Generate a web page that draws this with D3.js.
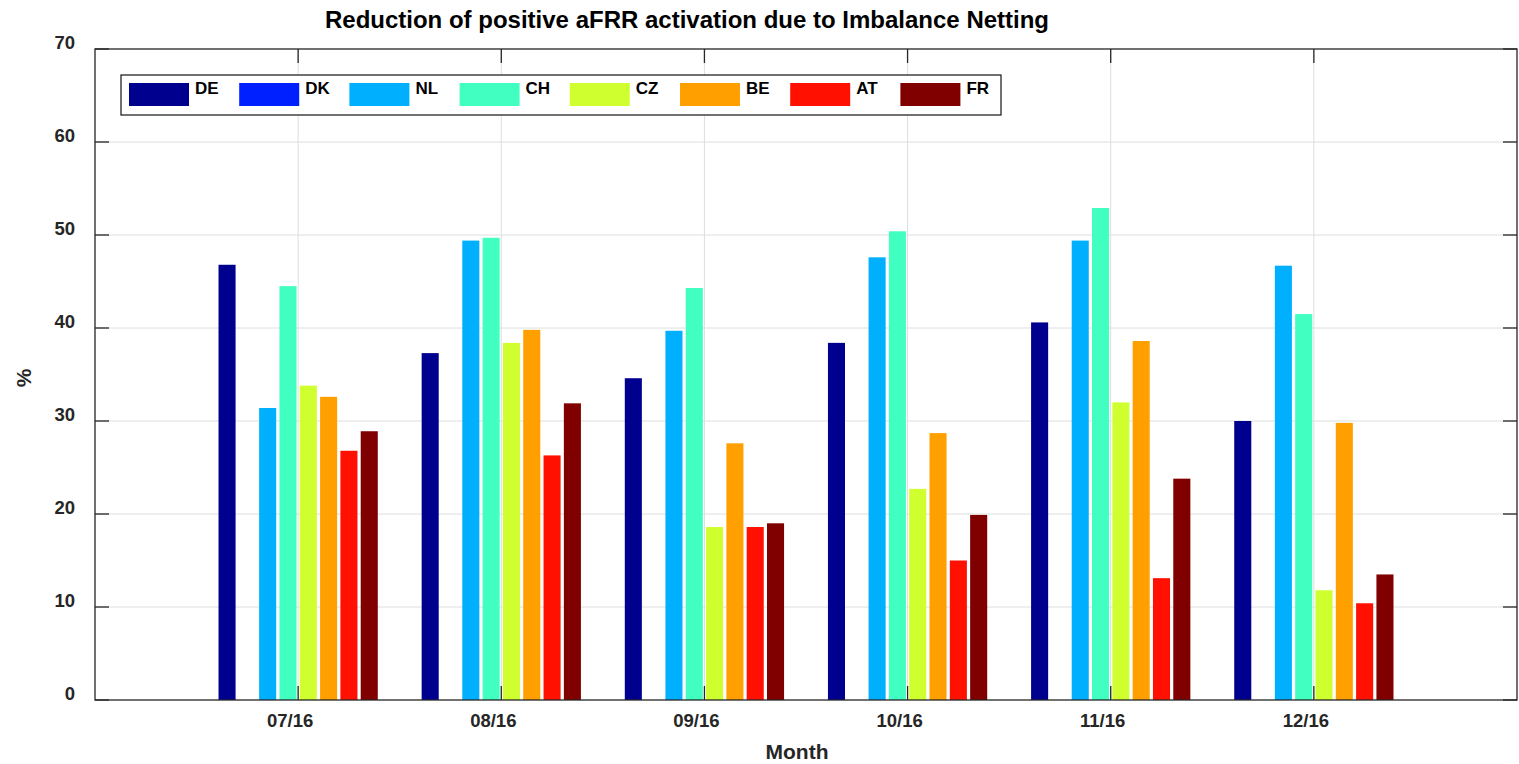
<!DOCTYPE html>
<html><head><meta charset="utf-8">
<script src="https://cdn.jsdelivr.net/npm/d3@7"></script>
<style>body{margin:0;background:#fff;} text{font-family:"Liberation Sans",Arial,sans-serif;font-weight:bold;}</style>
</head><body>
<svg id="chart" width="1519" height="764"></svg>
<script>
const months = ["07/16","08/16","09/16","10/16","11/16","12/16"];
const countries = ["DE","DK","NL","CH","CZ","BE","AT","FR"];
const colors = ["#00008F","#0020FF","#00B0FF","#40FFC0","#D0FF30","#FFA000","#FF1000","#800000"];
const DE = [46.8,37.3,34.6,38.4,40.6,30.0];
const DK = [0,0,0,0,0,0];
const NL = [31.4,49.4,39.7,47.6,49.4,46.7];
const CH = [44.5,49.7,44.3,50.4,52.9,41.5];
const CZ = [33.8,38.4,18.6,22.7,32.0,11.8];
const BE = [32.6,39.8,27.6,28.7,38.6,29.8];
const AT = [26.8,26.3,18.6,15.0,13.1,10.4];
const FR = [28.9,31.9,19.0,19.9,23.8,13.5];
const series = [DE,DK,NL,CH,CZ,BE,AT,FR];
const yTicks = [0,10,20,30,40,50,60,70];

const svg = d3.select("#chart");
const L=95, R=1517, T=49, B=700;
const x = d3.scaleLinear().domain([0,7]).range([L,R]);
const y = d3.scaleLinear().domain([0,70]).range([B,T]);

// grid
const g = svg.append("g");
g.selectAll(".hg").data(yTicks.slice(1,-1)).enter().append("line")
 .attr("x1",L).attr("x2",R).attr("y1",d=>y(d)).attr("y2",d=>y(d))
 .attr("stroke","#dedede").attr("stroke-width",1);
g.selectAll(".vg").data(months).enter().append("line")
 .attr("x1",(d,i)=>x(i+1)).attr("x2",(d,i)=>x(i+1)).attr("y1",T).attr("y2",B)
 .attr("stroke","#dedede").attr("stroke-width",1);

// bars
const step = 0.1, bw = 0.084;
series.forEach((s,k)=>{
  svg.append("g").selectAll("rect").data(s).enter().append("rect")
   .attr("x",(d,i)=>x(i+1+(k-3.5)*step-bw/2))
   .attr("width",x(bw)-x(0))
   .attr("y",d=>y(d)).attr("height",d=>y(0)-y(d))
   .attr("fill",colors[k]);
});

// axes box
const ax = svg.append("g").attr("stroke","#262626").attr("stroke-width",1.3).attr("fill","none");
ax.append("rect").attr("x",L).attr("y",T).attr("width",R-L).attr("height",B-T);
yTicks.forEach(t=>{
  ax.append("line").attr("x1",L).attr("x2",L+14).attr("y1",y(t)).attr("y2",y(t));
  ax.append("line").attr("x1",R).attr("x2",R-14).attr("y1",y(t)).attr("y2",y(t));
});
months.forEach((m,i)=>{
  ax.append("line").attr("x1",x(i+1)).attr("x2",x(i+1)).attr("y1",B).attr("y2",B-14);
  ax.append("line").attr("x1",x(i+1)).attr("x2",x(i+1)).attr("y1",T).attr("y2",T+14);
});

// tick labels
svg.selectAll(".yl").data(yTicks).enter().append("text")
 .attr("x",75).attr("y",d=>y(d)).attr("text-anchor","end")
 .attr("font-size",18.5).attr("fill","#262626").text(d=>d);
svg.selectAll(".xl").data(months).enter().append("text")
 .attr("x",(d,i)=>x(i+1)-8).attr("y",727).attr("text-anchor","middle")
 .attr("font-size",18.5).attr("fill","#262626").text(d=>d);

svg.append("text").attr("x",797).attr("y",759).attr("text-anchor","middle")
 .attr("font-size",21).attr("fill","#262626").text("Month");
svg.append("text").attr("transform","translate(31,378) rotate(-90)").attr("text-anchor","middle")
 .attr("font-size",21).attr("fill","#262626").text("%");
svg.append("text").attr("x",687).attr("y",28).attr("text-anchor","middle")
 .attr("font-size",24).attr("fill","#000").text("Reduction of positive aFRR activation due to Imbalance Netting");

// legend
const lg = svg.append("g");
lg.append("rect").attr("x",121).attr("y",75).attr("width",880).attr("height",40)
 .attr("fill","#fff").attr("stroke","#262626").attr("stroke-width",1.3);
countries.forEach((c,i)=>{
  const lx = 129 + i*110.2;
  lg.append("rect").attr("x",lx).attr("y",83).attr("width",60).attr("height",23).attr("fill",colors[i]);
  lg.append("text").attr("x",lx+66).attr("y",94).attr("font-size",17).attr("fill","#000").text(c);
});
</script>
</body></html>
